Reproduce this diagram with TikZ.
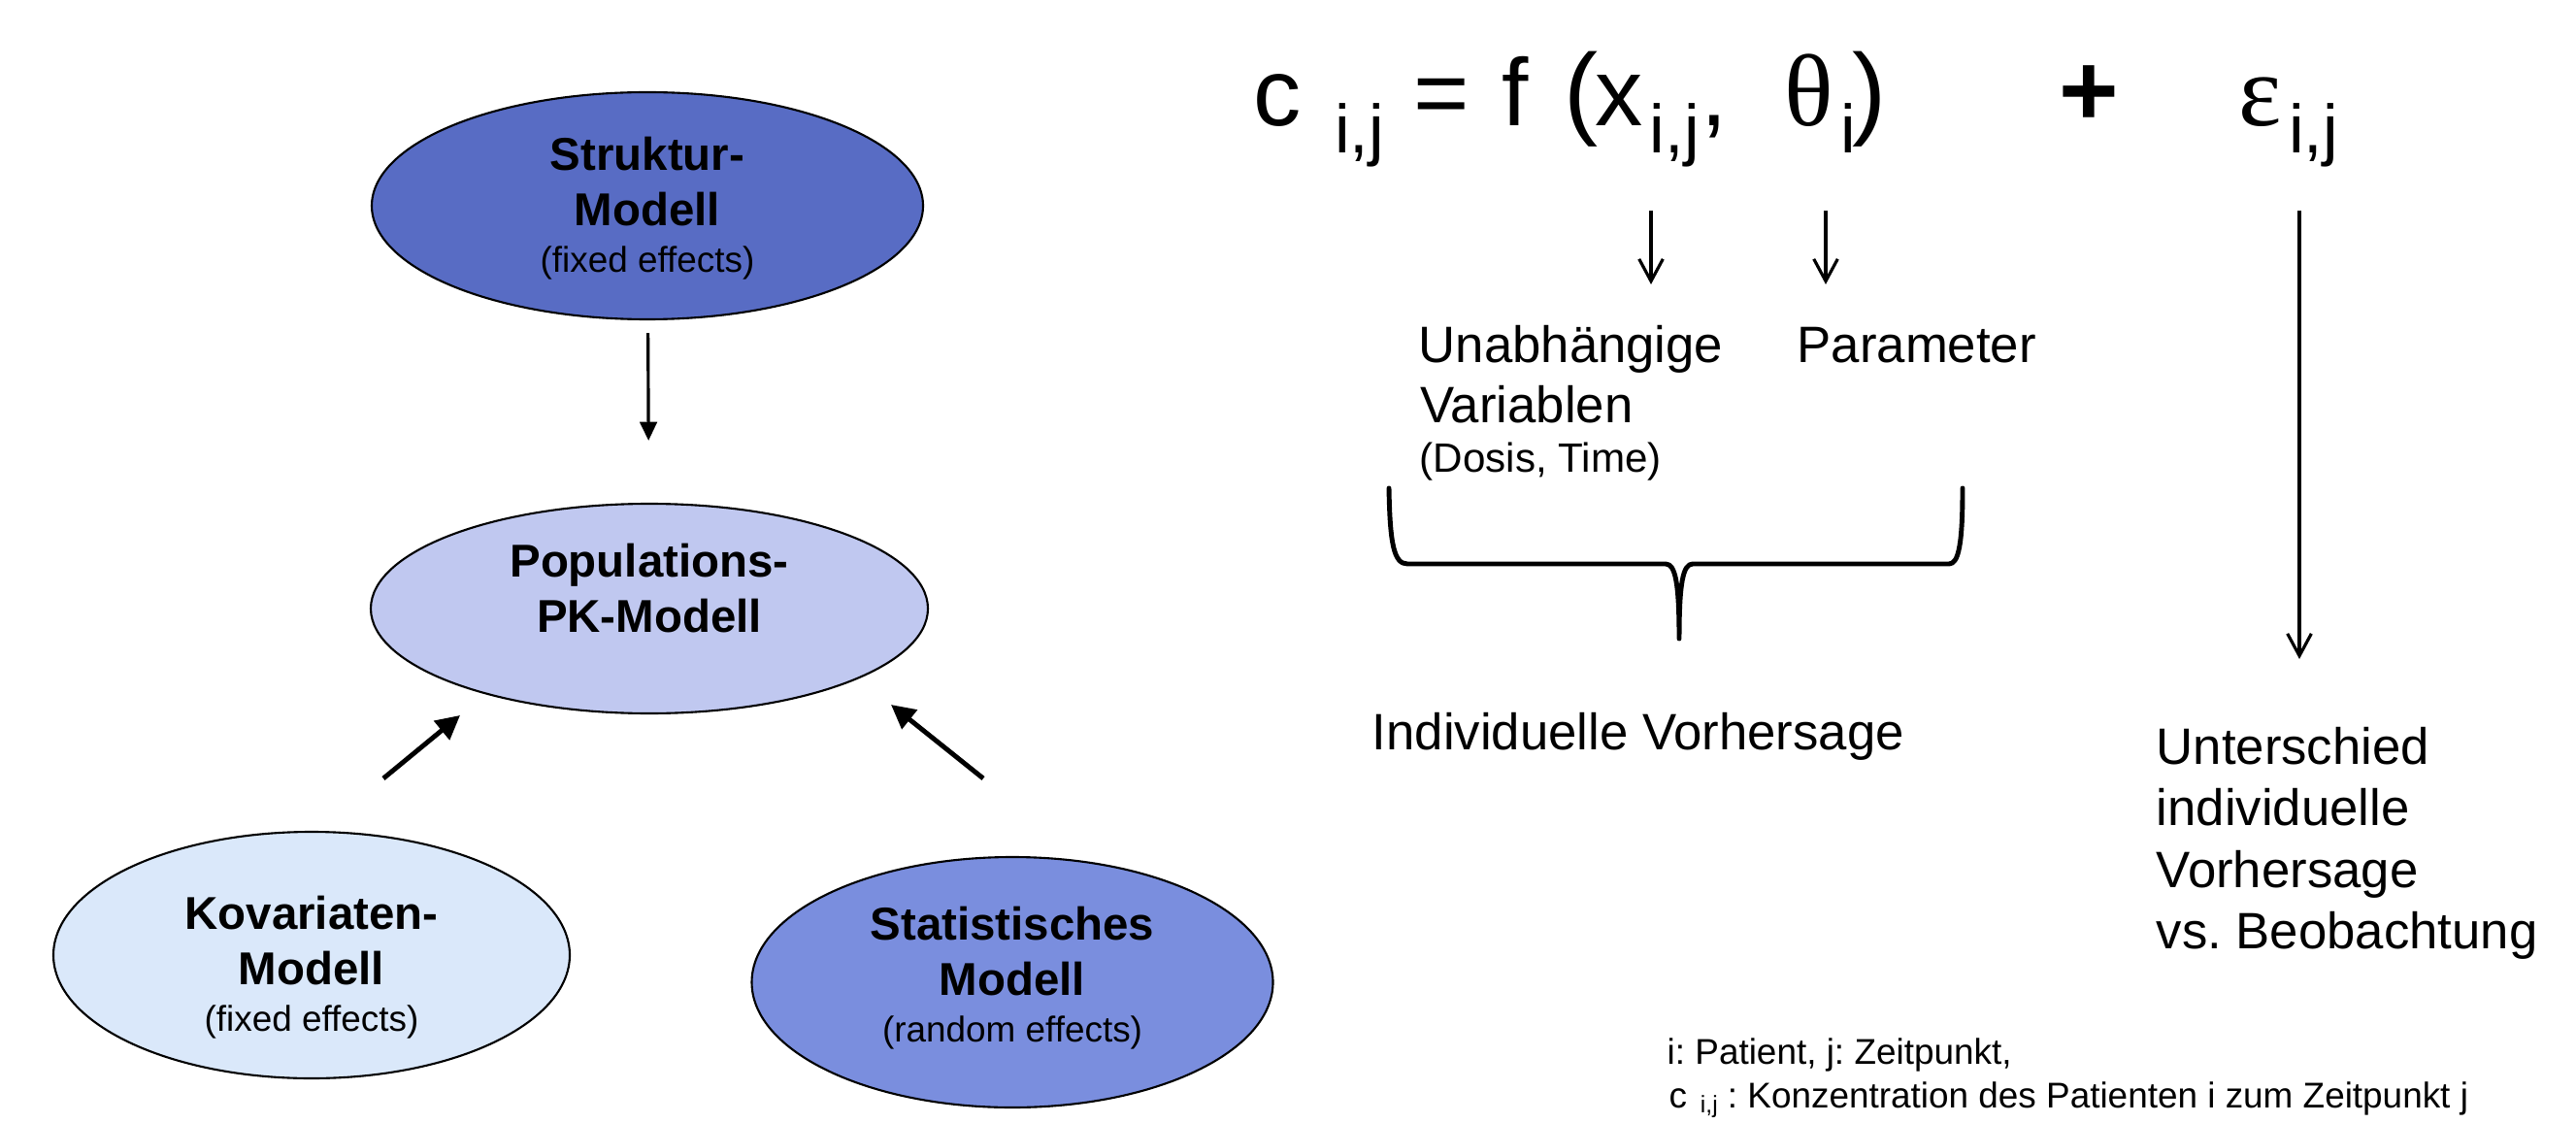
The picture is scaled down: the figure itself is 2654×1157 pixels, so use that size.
\documentclass[tikz,border=0pt]{standalone}
\usepackage{fontspec}
\setmainfont{Liberation Sans}
\newfontfamily\greekfont{Liberation Serif}
\usetikzlibrary{shapes.geometric,arrows.meta}
\frenchspacing

\definecolor{strukblue}{RGB}{88,108,196}
\definecolor{popblue}{RGB}{192,200,240}
\definecolor{kovblue}{RGB}{218,232,250}
\definecolor{statblue}{RGB}{122,142,222}

\newcommand\fmain{\fontsize{28}{30}\selectfont}
\newcommand\fparen{\fontsize{30}{32}\selectfont}
\newcommand\fgreek{\greekfont\fontsize{30}{32}\selectfont}
\newcommand\idx[1]{\kern2pt\raisebox{-7.7pt}{\normalfont\fontsize{20}{20}\selectfont #1}}
\newcommand\smallidx[1]{\kern1pt\raisebox{-1.7pt}{\fontsize{7}{7}\selectfont #1}}

\tikzset{
  model/.style={ellipse, draw=black, line width=0.6pt, inner sep=0pt},
  modeltext/.style={align=center, inner sep=0pt, font=\fontsize{13.5}{16.2}\selectfont\bfseries},
  fml/.style={anchor=base west, inner sep=0pt, font=\fmain},
  lbl/.style={anchor=base west, inner sep=0pt, font=\fontsize{15}{18}\selectfont},
  note/.style={anchor=base west, inner sep=0pt, font=\fontsize{10.5}{12}\selectfont},
  fatarr/.style={line width=1.4pt, -{Triangle[length=7pt,width=7pt]}},
  thinarr/.style={line width=0.9pt, -{Triangle[length=5.5pt,width=5pt]}},
  barb/.style={line width=0.9pt, -{Straight Barb[length=6.5pt,width=7pt]}},
}

\begin{document}
\begin{tikzpicture}[x=0.1mm,y=-0.1mm]
  \useasboundingbox (0,0) rectangle (2654,1157);

  % the four models
  \node[model, fill=strukblue, minimum width=56.8mm, minimum height=23.4mm] (struk) at (667,212) {};
  \node[model, fill=popblue, minimum width=57.4mm, minimum height=21.6mm] (pop) at (669,627) {};
  \node[model, fill=kovblue, minimum width=53.2mm, minimum height=25.4mm] (kov) at (321,984) {};
  \node[model, fill=statblue, minimum width=53.7mm, minimum height=25.8mm] (stat) at (1043,1012) {};

  \node[modeltext] (struktxt) at (667,215) {Struktur-\\Modell\\[-2.5pt]{\mdseries\fontsize{10.5}{16.2}\selectfont (fixed effects)}};
  \node[modeltext] (poptxt) at (669,606) {Populations-\\PK-Modell};
  \node[modeltext] (kovtxt) at (321,997) {Kovariaten-\\Modell\\[-2.5pt]{\mdseries\fontsize{10.5}{16.2}\selectfont (fixed effects)}};
  \node[modeltext] (stattxt) at (1043,1008) {Statistisches\\Modell\\[-2.5pt]{\mdseries\fontsize{10.5}{16.2}\selectfont (random effects)}};

  \draw[thinarr, shorten <=1.3mm, shorten >=6.4mm] (struk) -- (pop);
  \coordinate (kovarr) at (395,802);
  \coordinate (kovtip) at (474,737);
  \coordinate (statarr) at (1013,802);
  \coordinate (stattip) at (918,726);
  \draw[fatarr] (kovarr) -- (kovtip);
  \draw[fatarr] (statarr) -- (stattip);

  % formula
  \node[fml] (cij) at (1291,130) {c \idx{i,j}};
  \node[fml] (eq) at (1456,130) {=};
  \node[fml] (fn) at (1547,130) {f};
  \node[fml, font=\fparen] (lpar) at (1611,130) {(};
  \node[fml] (xij) at (1643,130) {x\idx{i,j}};
  \node[fml] (comma) at (1752,130) {,};
  \node[fml, font=\fgreek] (theta) at (1838,130) {θ\idx{i}};
  \node[fml, font=\fparen] (rpar) at (1908,130) {)};
  \node[fml, font={\fparen\bfseries}] (plus) at (2121,130) {+};
  \node[fml, font=\fgreek] (eps) at (2306,130) {ε\idx{i,j}};

  \coordinate (xa) at (1701,217);
  \coordinate (xb) at (1701,293);
  \coordinate (ta) at (1881,217);
  \coordinate (tb) at (1881,293);
  \coordinate (ea) at (2369,217);
  \coordinate (eb) at (2369,679);
  \draw[barb] (xa) -- (xb);
  \draw[barb] (ta) -- (tb);
  \draw[barb] (ea) -- (eb);

  \node[lbl] (unab) at (1461,373) {Unabhängige};
  \node[lbl] (varia) at (1463,435) {Variablen};
  \node[lbl, font=\fontsize{12}{14}\selectfont] (dosis) at (1462,486) {(Dosis, Time)};
  \node[lbl] (param) at (1851,373) {Parameter};

  % brace
  \draw[line width=1.4pt, line cap=round, line join=round]
    (1431,503) .. controls (1432,560) and (1436,581) .. (1450,581) -- (1716,581)
    .. controls (1726,581) and (1730,600) .. (1730,658)
    .. controls (1730,600) and (1734,581) .. (1744,581) -- (2008,581)
    .. controls (2018,581) and (2022,560) .. (2022,503);

  \node[lbl] (indiv) at (1413,772) {Individuelle Vorhersage};

  \node[lbl] (unt1) at (2221,787) {Unterschied};
  \node[lbl] (unt2) at (2221,850) {individuelle};
  \node[lbl] (unt3) at (2221,914) {Vorhersage};
  \node[lbl] (unt4) at (2221,977) {vs. Beobachtung};

  \node[note] (note1) at (1717,1096) {i: Patient, j: Zeitpunkt,};
  \node[note] (note2) at (1719,1141) {c \smallidx{i,j} : Konzentration des Patienten i zum Zeitpunkt j};
\end{tikzpicture}
\end{document}
